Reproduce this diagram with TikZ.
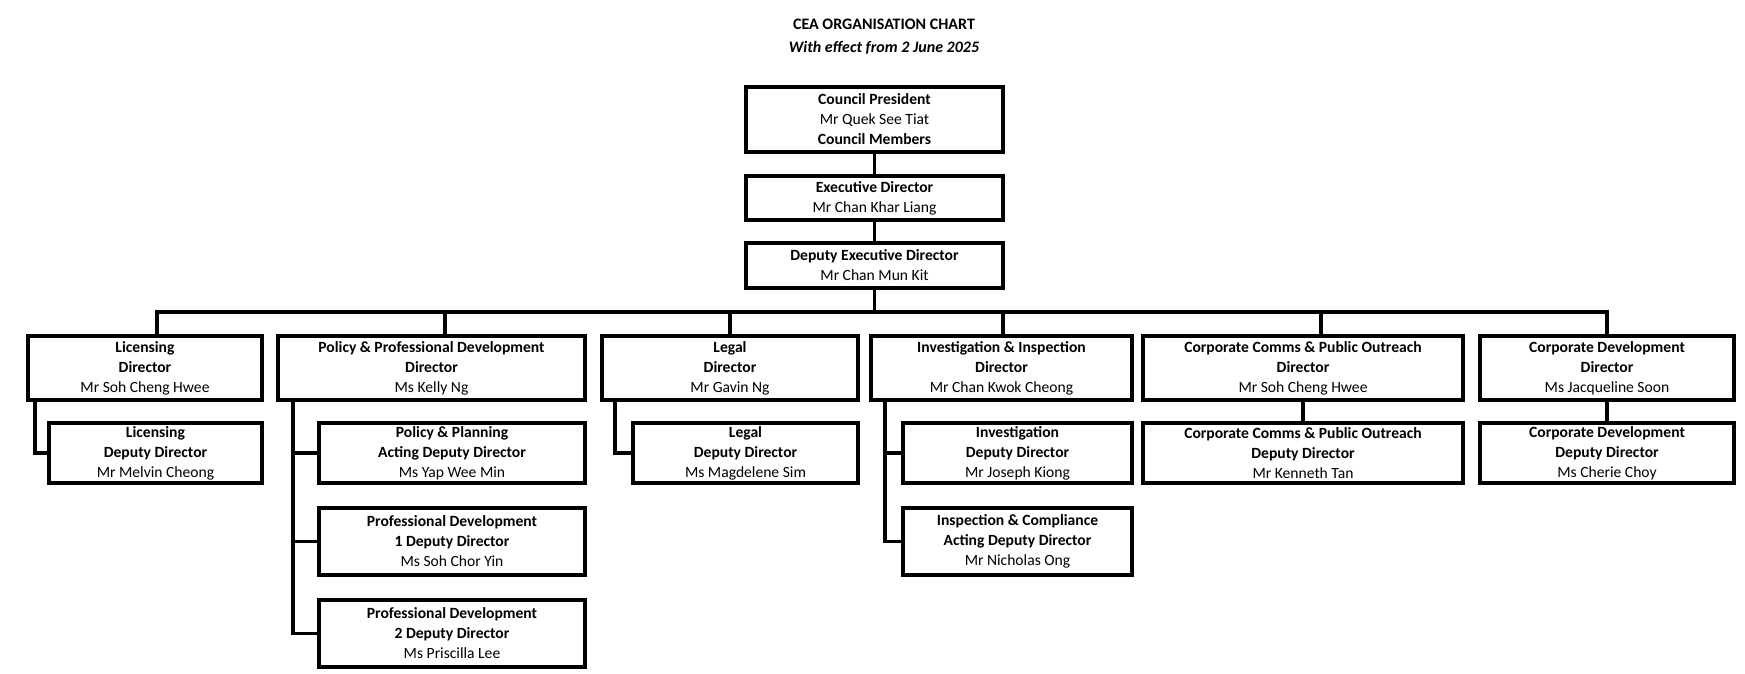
\documentclass[tikz,border=0pt]{standalone}
\usepackage{fontspec}
\setmainfont{Carlito}
\begin{document}
\begin{tikzpicture}[x=1pt,y=-1pt,
  box/.style={draw,line width=1.8pt,align=center,inner sep=0pt,font=\fontsize{7.8}{10}\selectfont},
  ln/.style={line width=1.8pt}]
\useasboundingbox (0,0) rectangle (872.5,337);
\node[font=\fontsize{8}{11.5}\selectfont\bfseries,align=center] (title) at (442,18.5) {CEA ORGANISATION CHART\\\itshape With effect from 2 June 2025};
\node[box,minimum width=128.5pt,minimum height=32.5pt] (cp) at (437.25,59.75) {\textbf{Council President}\\Mr Quek See Tiat\\\textbf{Council Members}};
\node[box,minimum width=128.5pt,minimum height=22pt] (ed) at (437.25,99) {\textbf{Executive Director}\\Mr Chan Khar Liang};
\node[box,minimum width=128.5pt,minimum height=22.5pt] (ded) at (437.25,132.75) {\textbf{Deputy Executive Director}\\Mr Chan Mun Kit};
% row 1
\node[box,minimum width=117pt,minimum height=32pt] (lic) at (72.5,184) {\textbf{Licensing}\\\textbf{Director}\\Mr Soh Cheng Hwee};
\node[box,minimum width=153.5pt,minimum height=32pt] (pol) at (215.75,184) {\textbf{Policy \& Professional Development}\\\textbf{Director}\\Ms Kelly Ng};
\node[box,minimum width=128pt,minimum height=32pt] (leg) at (365,184) {\textbf{Legal}\\\textbf{Director}\\Mr Gavin Ng};
\node[box,minimum width=130.5pt,minimum height=32pt] (inv) at (500.75,184) {\textbf{Investigation \& Inspection}\\\textbf{Director}\\Mr Chan Kwok Cheong};
\node[box,minimum width=160pt,minimum height=32pt] (cc) at (651.5,184) {\textbf{Corporate Comms \& Public Outreach}\\\textbf{Director}\\Mr Soh Cheng Hwee};
\node[box,minimum width=127pt,minimum height=32pt] (cd) at (803.5,184) {\textbf{Corporate Development}\\\textbf{Director}\\Ms Jacqueline Soon};
% row 2
\node[box,minimum width=106.5pt,minimum height=30pt] (licd) at (77.75,226.5) {\textbf{Licensing}\\\textbf{Deputy Director}\\Mr Melvin Cheong};
\node[box,minimum width=133pt,minimum height=30pt] (pp) at (226,226.5) {\textbf{Policy \& Planning}\\\textbf{Acting Deputy Director}\\Ms Yap Wee Min};
\node[box,minimum width=112.5pt,minimum height=30pt] (legd) at (372.75,226.5) {\textbf{Legal}\\\textbf{Deputy Director}\\Ms Magdelene Sim};
\node[box,minimum width=114.5pt,minimum height=30pt] (invd) at (508.75,226.5) {\textbf{Investigation}\\\textbf{Deputy Director}\\Mr Joseph Kiong};
\node[box,minimum width=160pt,minimum height=30pt] (ccd) at (651.5,226.5) {\textbf{Corporate Comms \& Public Outreach}\\\textbf{Deputy Director}\\Mr Kenneth Tan};
\node[box,minimum width=127pt,minimum height=30pt] (cdd) at (803.5,226.5) {\textbf{Corporate Development}\\\textbf{Deputy Director}\\Ms Cherie Choy};
% row 3,4
\node[box,minimum width=133pt,minimum height=33.5pt] (pd1) at (226,270.75) {\textbf{Professional Development}\\\textbf{1 Deputy Director}\\Ms Soh Chor Yin};
\node[box,minimum width=114.5pt,minimum height=33.5pt] (ins) at (508.75,270.75) {\textbf{Inspection \& Compliance}\\\textbf{Acting Deputy Director}\\Mr Nicholas Ong};
\node[box,minimum width=133pt,minimum height=33.5pt] (pd2) at (226,316.75) {\textbf{Professional Development}\\\textbf{2 Deputy Director}\\Ms Priscilla Lee};
% connectors
\draw[ln] (cp) -- (ed);
\draw[ln] (ed) -- (ded);
\coordinate (bus) at (437.25,156);
\draw[ln] (ded.south) -- (bus);
\draw[ln] ([xshift=6pt]lic.north) |- (bus);
\draw[ln] ([xshift=6.75pt]pol.north) |- (bus);
\draw[ln] (leg.north) |- (bus);
\draw[ln] ([xshift=0.75pt]inv.north) |- (bus);
\draw[ln] ([xshift=9pt]cc.north) |- (bus);
\draw[ln] (cd.north) |- (bus);
\draw[ln] ([xshift=4.5pt]lic.south west) |- (licd.west);
\draw[ln] ([xshift=8.5pt]pol.south west) |- (pd2.west);
\draw[ln] ([xshift=8.5pt]pol.south west) |- (pp.west);
\draw[ln] ([xshift=8.5pt]pol.south west) |- (pd1.west);
\draw[ln] ([xshift=7.5pt]leg.south west) |- (legd.west);
\draw[ln] ([xshift=8pt]inv.south west) |- (ins.west);
\draw[ln] ([xshift=8pt]inv.south west) |- (invd.west);
\draw[ln] (cc) -- (ccd);
\draw[ln] (cd) -- (cdd);
\end{tikzpicture}
\end{document}
